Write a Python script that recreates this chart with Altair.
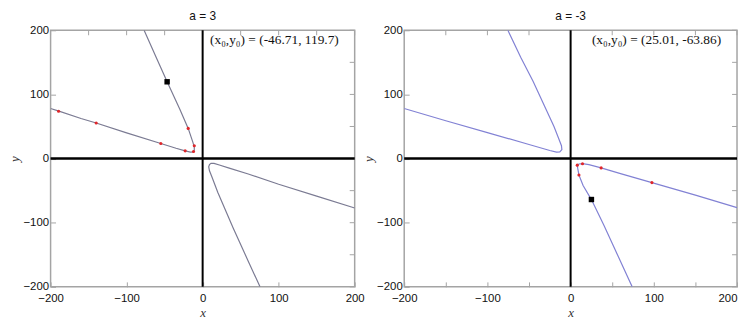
import altair as alt
import pandas as pd

# ---------------- data ----------------
# Panel a = 3
L_b1_x = [-200, -189, -160, -140, -100, -55, -35, -23, -16, -12, -11, -11, -12, -13, -19, -30, -46.7, -60, -77]
L_b1_y = [78, 74, 62.5, 55.5, 40, 23.5, 16, 12, 10, 10.5, 13, 18, 22, 26, 47, 77, 119.7, 155, 200]
L_b2_x = [200, 150, 100, 60, 35, 22, 15, 11, 9, 8, 9, 12, 20, 40, 60, 75.5]
L_b2_y = [-77, -58.5, -40, -24, -15, -10, -7.5, -7.5, -9.5, -13, -19, -28, -53, -108, -160, -200]
L_red_x = [-189.5, -140, -55, -23, -12, -11, -19]
L_red_y = [73.7, 55.5, 23.5, 12, 11, 20, 47]
L_pt = (-46.71, 119.7)

# Panel a = -3
R_b1_x = [-200, -150, -100, -50, -25, -17, -13, -10.5, -11, -14, -20, -30, -45, -60, -75.4]
R_b1_y = [78, 59, 40.5, 22, 12.5, 10, 10.5, 14, 20, 30, 50, 78, 120, 158, 200]
R_b2_x = [200, 150, 97.7, 60, 36.7, 22, 14.3, 10, 8, 8.5, 10, 15, 25, 40, 57, 74]
R_b2_y = [-76.5, -57, -37.5, -23.5, -14.6, -9.5, -8, -8.5, -10.3, -15, -25.6, -42, -64, -104, -152, -200]
R_red_x = [8, 14.3, 36.7, 97.7, 10]
R_red_y = [-10.3, -8, -14.6, -37.5, -25.6]
R_pt = (25.01, -63.86)

TICKS = [-200, -150, -100, -50, 0, 50, 100, 150, 200]
DOMAIN = [-200, 200]

LABEL_FONT = "Liberation Sans"
SERIF = "Liberation Serif"
FRAME = "#a4a4a4"


def curve_df(b1x, b1y, b2x, b2y):
    rows = []
    for i, (x, y) in enumerate(zip(b1x, b1y)):
        rows.append({"x": x, "y": y, "branch": "b1", "i": i})
    for i, (x, y) in enumerate(zip(b2x, b2y)):
        rows.append({"x": x, "y": y, "branch": "b2", "i": i})
    return pd.DataFrame(rows)


def panel(title, b1x, b1y, b2x, b2y, rx, ry, pt, color, width, height, flush_last):
    xs = alt.Scale(domain=DOMAIN, nice=False, zero=False)
    ys = alt.Scale(domain=DOMAIN, nice=False, zero=False)
    label_expr = "datum.value % 100 == 0 ? datum.label : ''"

    x_kwargs = {}
    if flush_last:
        x_kwargs["labelAlign"] = {"condition": {"test": "datum.value >= 200", "value": "right"},
                                  "value": "center"}
    x_axis = alt.Axis(values=TICKS, labelExpr=label_expr, grid=False, domain=False,
                      tickColor=FRAME, tickSize=5, offset=-5, labelPadding=6,
                      labelFont=LABEL_FONT, labelFontSize=11.5, labelColor="#111",
                      labelFlush=False, title="x", titleFont=SERIF,
                      titleFontStyle="italic", titleFontWeight="normal",
                      titleFontSize=13, titleColor="#333", titlePadding=2, **x_kwargs)
    y_axis = alt.Axis(values=TICKS, labelExpr=label_expr, grid=False, domain=False,
                      tickColor=FRAME, tickSize=5, offset=-5, labelPadding=2,
                      labelFont=LABEL_FONT, labelFontSize=11.5, labelColor="#111",
                      labelFlush=False, title="y", titleFont=SERIF,
                      titleFontStyle="italic", titleFontWeight="normal",
                      titleFontSize=13, titleColor="#333", titlePadding=1)

    cdf = curve_df(b1x, b1y, b2x, b2y)
    reddf = pd.DataFrame({"x": rx, "y": ry})
    ptdf = pd.DataFrame({"x": [pt[0]], "y": [pt[1]]})
    zero = pd.DataFrame({"v": [0]})
    tickdf = pd.DataFrame({"v": TICKS})
    ann = pd.DataFrame({"t": [f"(x\u2080,y\u2080) = ({pt[0]:g}, {pt[1]:g})"]})

    lines = alt.Chart(cdf).mark_line(color=color, strokeWidth=1.2, clip=True).encode(
        x=alt.X("x:Q", scale=xs, axis=x_axis),
        y=alt.Y("y:Q", scale=ys, axis=y_axis),
        detail="branch:N",
        order="i:Q",
    )
    top_ticks = alt.Chart(tickdf).mark_rule(color=FRAME, strokeWidth=1).encode(
        x=alt.X("v:Q", scale=xs), y=alt.value(0), y2=alt.value(5))
    right_ticks = alt.Chart(tickdf).mark_rule(color=FRAME, strokeWidth=1).encode(
        y=alt.Y("v:Q", scale=ys), x=alt.value(width - 5), x2=alt.value(width))
    h0 = alt.Chart(zero).mark_rule(color="black", strokeWidth=2.5).encode(
        y=alt.Y("v:Q", scale=ys))
    v0 = alt.Chart(zero).mark_rule(color="black", strokeWidth=2).encode(
        x=alt.X("v:Q", scale=xs))
    reds = alt.Chart(reddf).mark_circle(color="#e0262a", size=10, opacity=1).encode(
        x=alt.X("x:Q", scale=xs),
        y=alt.Y("y:Q", scale=ys),
    )
    sq = alt.Chart(ptdf).mark_square(color="black", size=30, opacity=1).encode(
        x=alt.X("x:Q", scale=xs),
        y=alt.Y("y:Q", scale=ys),
    )
    text = alt.Chart(ann).mark_text(font=SERIF, fontSize=13.5, align="right",
                                    baseline="middle", color="#111").encode(
        x=alt.value(width - 16), y=alt.value(10), text="t:N")

    return alt.layer(lines, top_ticks, right_ticks, h0, v0, reds, sq, text).properties(
        width=width, height=height,
        title=alt.Title(title, font=LABEL_FONT, fontSize=12, fontWeight="normal",
                        color="#111", offset=1),
    )


left = panel("a = 3", L_b1_x, L_b1_y, L_b2_x, L_b2_y, L_red_x, L_red_y, L_pt,
             "#7b7b93", 307, 259, False)
right = panel("a = -3", R_b1_x, R_b1_y, R_b2_x, R_b2_y, R_red_x, R_red_y, R_pt,
              "#8282d4", 336, 259, True)

chart = alt.HConcatChart(hconcat=[left, right], spacing=50, bounds="flush").properties(
    padding=0
).configure_view(stroke=FRAME, strokeWidth=1.5)

chart.save("out.html", embed_options={"renderer": "svg", "actions": False})
